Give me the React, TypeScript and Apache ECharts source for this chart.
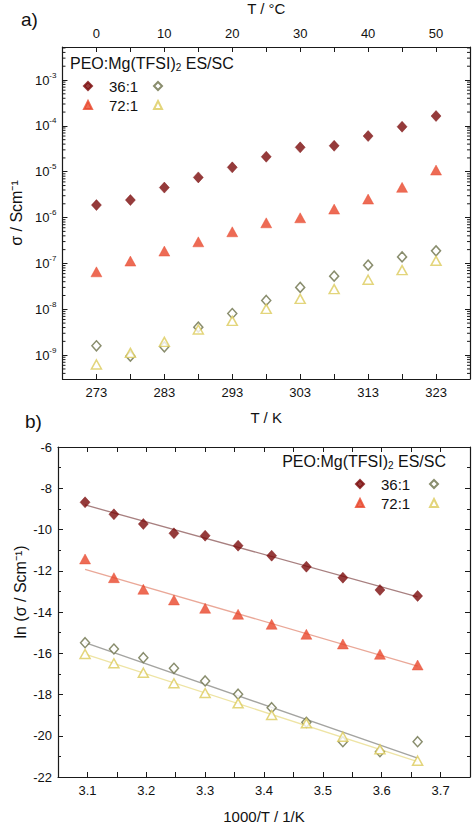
import React, { useEffect, useRef } from "react";
import * as echarts from "echarts";

// ---------- data ----------
const tempK = [273, 278, 283, 288, 293, 298, 303, 308, 313, 318, 323];
const invT = [3.661, 3.597, 3.534, 3.472, 3.413, 3.356, 3.3, 3.247, 3.195, 3.145, 3.096];

// conductivity in S/cm (panel a)
const sigma36ES = [1.875e-6, 2.41e-6, 4.51e-6, 7.53e-6, 1.245e-5, 2.12e-5, 3.4e-5, 3.68e-5, 6.0e-5, 9.57e-5, 1.64e-4];
const sigma72ES = [6.56e-8, 1.125e-7, 1.86e-7, 2.96e-7, 4.9e-7, 7.69e-7, 9.89e-7, 1.53e-6, 2.53e-6, 4.56e-6, 1.086e-5];
const sigma36SC = [1.6e-9, 9.5e-10, 1.52e-9, 4.08e-9, 8.1e-9, 1.56e-8, 3.0e-8, 5.28e-8, 9.18e-8, 1.39e-7, 1.88e-7];
const sigma72SC = [6.27e-10, 1.12e-9, 1.95e-9, 3.63e-9, 5.6e-9, 1.02e-8, 1.69e-8, 2.75e-8, 4.42e-8, 7.14e-8, 1.14e-7];

// ln(sigma) (panel b)
const ln36ES = [-13.224, -12.933, -12.337, -11.804, -11.27, -10.785, -10.301, -10.184, -9.733, -9.263, -8.681];
const ln72ES = [-16.57, -16.051, -15.552, -15.081, -14.596, -14.112, -13.821, -13.418, -12.899, -12.337, -11.43];
const ln36SC = [-20.288, -20.773, -20.288, -19.348, -18.64, -17.985, -17.345, -16.73, -16.216, -15.794, -15.488];
const ln72SC = [-21.21, -20.657, -20.046, -19.397, -18.994, -18.427, -17.927, -17.457, -16.943, -16.487, -16.036];

// Arrhenius fit lines (values at 1000/T = 3.661 and 3.096)
const fitX = [3.661, 3.096];
const fit36ES = [-13.27, -8.81];
const fit72ES = [-16.62, -11.93];
const fit36SC = [-21.08, -15.49];
const fit72SC = [-21.26, -16.04];

// axis ranges
const kRange = [268, 328];
const cRange = [-5, 55];
const logRange = [-9.52, -2.28];
const invRange = [3.05, 3.75];
const lnRange = [-22, -6];

const FONT = "'Liberation Sans', Arial, sans-serif";
const AX = "#1a1a1a";

const C36ES = "#7a0a0a";
const C72ES = "#e8462a";
const C36SC = "#6b7148";
const C72SC = "#dccb5a";

export default function App() {
  const ref = useRef<HTMLDivElement>(null);

  useEffect(() => {
    if (!ref.current) return;
    const chart = echarts.init(ref.current, undefined, { renderer: "svg" });

    const minorLog: number[][] = [];
    for (let n = -10; n <= -2; n++) {
      for (let k = 2; k <= 9; k++) {
        const v = n + Math.log10(k);
        if (v > logRange[0] && v < logRange[1]) minorLog.push([kRange[0], v]);
      }
    }

    const axisCommon = {
      axisLine: { show: true, onZero: false, lineStyle: { color: AX, width: 1.2 } },
      axisTick: { show: true, inside: true, length: 5, lineStyle: { color: AX, width: 1 } },
      splitLine: { show: false },
      axisLabel: { color: "#111", fontSize: 13, fontFamily: FONT },
      nameTextStyle: { color: "#111", fontSize: 15, fontFamily: FONT },
    };

    const isInt = (v: number) => Math.abs(v - Math.round(v)) < 1e-6;

    const sc = (name: string, x: number, y: number[], sym: string, color: string, hollow: boolean, xi: number, yi: number, size: number | number[]) => ({
      name,
      type: "scatter",
      xAxisIndex: xi,
      yAxisIndex: yi,
      symbol: sym,
      symbolSize: size,
      z: 5,
      itemStyle: hollow
        ? { color: "#fff", borderColor: color, borderWidth: 1.5 }
        : { color, borderColor: color, borderWidth: 0.5 },
      data: y.map((v, i) => [x === 0 ? tempK[i] : invT[i], v]),
    });

    const fitLine = (name: string, y: number[], color: string) => ({
      name,
      type: "line",
      xAxisIndex: 2,
      yAxisIndex: 2,
      showSymbol: false,
      symbol: "none",
      z: 2,
      lineStyle: { color, width: 1.3 },
      data: fitX.map((x, i) => [x, y[i]]),
    });

    const log = (arr: number[]) => arr.map((v) => Math.log10(v));

    const legendBase = {
      orient: "vertical",
      padding: 0,
      itemWidth: 8,
      itemHeight: 8,
      itemGap: 3,
      textStyle: { fontSize: 15, lineHeight: 16, fontFamily: FONT, color: "#111", padding: [0, 0, 0, 12] },
      selectedMode: false,
    };

    const titleRich = {
      a: { fontSize: 16, fontFamily: FONT, fill: "#111", lineHeight: 19 },
      s: { fontSize: 10, fontFamily: FONT, fill: "#111", verticalAlign: "bottom", lineHeight: 12 },
    };

    chart.setOption({
      animation: false,
      backgroundColor: "#fff",
      textStyle: { fontFamily: FONT },
      grid: [
        { left: 58, top: 47, width: 412, height: 332 },
        { left: 58, top: 447, width: 412, height: 330 },
      ],
      xAxis: [
        {
          ...axisCommon,
          gridIndex: 0,
          type: "value",
          position: "bottom",
          min: kRange[0],
          max: kRange[1],
          interval: 5,
          name: "T / K",
          nameLocation: "middle",
          nameGap: 31,
          axisLabel: {
            ...axisCommon.axisLabel,
            margin: 7,
            formatter: (v: number) => ((Math.round(v) - 273) % 10 === 0 ? String(Math.round(v)) : ""),
          },
        },
        {
          ...axisCommon,
          gridIndex: 0,
          type: "value",
          position: "top",
          min: cRange[0],
          max: cRange[1],
          interval: 5,
          name: "T / °C",
          nameLocation: "middle",
          nameGap: 31,
          axisLabel: {
            ...axisCommon.axisLabel,
            margin: 7,
            formatter: (v: number) => (Math.round(v) % 10 === 0 ? String(Math.round(v)) : ""),
          },
        },
        {
          ...axisCommon,
          gridIndex: 1,
          type: "value",
          position: "bottom",
          min: invRange[0],
          max: invRange[1],
          interval: 0.05,
          name: "1000/T / 1/K",
          nameLocation: "middle",
          nameGap: 32,
          axisLabel: {
            ...axisCommon.axisLabel,
            margin: 7,
            formatter: (v: number) => (Math.round(v * 100) % 10 === 0 ? v.toFixed(1) : ""),
          },
        },
        {
          ...axisCommon,
          gridIndex: 1,
          type: "value",
          position: "top",
          min: invRange[0],
          max: invRange[1],
          interval: 0.05,
          axisLabel: { show: false },
        },
      ],
      yAxis: [
        {
          ...axisCommon,
          gridIndex: 0,
          type: "value",
          position: "left",
          min: logRange[0],
          max: logRange[1],
          splitNumber: 7,
          name: "σ / Scm⁻¹",
          nameLocation: "middle",
          nameGap: 30,
          nameTextStyle: { ...axisCommon.nameTextStyle, fontSize: 16 },
          axisLabel: {
            ...axisCommon.axisLabel,
            margin: 6,
            formatter: (v: number) => (isInt(v) ? `{b|10}{s|${Math.round(v)}}` : ""),
            rich: {
              b: { fontSize: 13, fontFamily: FONT, color: "#111", lineHeight: 18 },
              s: { fontSize: 8, fontFamily: FONT, color: "#111", verticalAlign: "top", lineHeight: 9 },
            },
          },
        },
        {
          ...axisCommon,
          gridIndex: 0,
          type: "value",
          position: "right",
          min: logRange[0],
          max: logRange[1],
          splitNumber: 7,
          axisLabel: { show: false },
        },
        {
          ...axisCommon,
          gridIndex: 1,
          type: "value",
          position: "left",
          min: lnRange[0],
          max: lnRange[1],
          interval: 2,
          minorTick: { show: true, splitNumber: 2, length: 3, lineStyle: { color: AX } },
          axisLabel: { ...axisCommon.axisLabel, margin: 6 },
        },
        {
          ...axisCommon,
          gridIndex: 1,
          type: "value",
          position: "right",
          min: lnRange[0],
          max: lnRange[1],
          interval: 2,
          minorTick: { show: true, splitNumber: 2, length: 3, lineStyle: { color: AX } },
          axisLabel: { show: false },
        },
      ],
      legend: [
        {
          ...legendBase,
          left: 83,
          top: 78,
          data: [
            { name: "36:1 ES", icon: "diamond" },
            { name: "72:1 ES", icon: "triangle" },
          ],
          formatter: (n: string) => n.split(" ")[0],
        },
        {
          ...legendBase,
          left: 153,
          top: 78,
          data: [
            { name: "36:1 SC", icon: "diamond" },
            { name: "72:1 SC", icon: "triangle" },
          ],
          formatter: () => " ",
        },
        {
          ...legendBase,
          left: 355,
          top: 476,
          data: [
            { name: "36:1 ES", icon: "diamond" },
            { name: "72:1 ES", icon: "triangle" },
          ],
          formatter: (n: string) => n.split(" ")[0],
        },
        {
          ...legendBase,
          left: 429,
          top: 476,
          data: [
            { name: "36:1 SC", icon: "diamond" },
            { name: "72:1 SC", icon: "triangle" },
          ],
          formatter: () => " ",
        },
      ],
      graphic: [
        { type: "text", left: 21, top: 10, style: { text: "a)", fontSize: 19, fontFamily: FONT, fill: "#111" } },
        { type: "text", left: 25, top: 412, style: { text: "b)", fontSize: 19, fontFamily: FONT, fill: "#111" } },
        {
          type: "text",
          left: 70,
          top: 55,
          style: { text: "{a|PEO:Mg(TFSI)}{s|2}{a| ES/SC}", rich: titleRich },
        },
        {
          type: "text",
          right: 28,
          top: 453,
          style: { text: "{a|PEO:Mg(TFSI)}{s|2}{a| ES/SC}", rich: titleRich },
        },
        {
          type: "text",
          x: 20,
          y: 592,
          rotation: Math.PI / 2,
          style: {
            text: "ln (σ / Scm⁻¹)",
            fontSize: 16,
            fontFamily: FONT,
            fill: "#111",
            align: "center",
            verticalAlign: "middle",
          },
        },
      ],
      series: [
        {
          type: "custom",
          xAxisIndex: 0,
          yAxisIndex: 0,
          silent: true,
          clip: false,
          z: 1,
          data: minorLog,
          renderItem: (_p: any, api: any) => {
            const l = api.coord([kRange[0], api.value(1)]);
            const r = api.coord([kRange[1], api.value(1)]);
            return {
              type: "group",
              children: [
                { type: "line", shape: { x1: l[0], y1: l[1], x2: l[0] + 3, y2: l[1] }, style: { stroke: AX, lineWidth: 1 } },
                { type: "line", shape: { x1: r[0] - 3, y1: r[1], x2: r[0], y2: r[1] }, style: { stroke: AX, lineWidth: 1 } },
              ],
            };
          },
        },
        sc("36:1 ES", 0, log(sigma36ES), "diamond", C36ES, false, 0, 0, [10, 11]),
        sc("72:1 ES", 0, log(sigma72ES), "triangle", C72ES, false, 0, 0, [11, 10]),
        sc("36:1 SC", 0, log(sigma36SC), "diamond", C36SC, true, 0, 0, [9, 10]),
        sc("72:1 SC", 0, log(sigma72SC), "triangle", C72SC, true, 0, 0, [10, 9]),
        fitLine("fit 36:1 ES", fit36ES, "#a88080"),
        fitLine("fit 72:1 ES", fit72ES, "#eaa898"),
        fitLine("fit 36:1 SC", fit36SC, "#a4a4a0"),
        fitLine("fit 72:1 SC", fit72SC, "#eee4a4"),
        sc("36:1 ES", 1, ln36ES, "diamond", C36ES, false, 2, 2, [10, 11]),
        sc("72:1 ES", 1, ln72ES, "triangle", C72ES, false, 2, 2, [11, 10]),
        sc("36:1 SC", 1, ln36SC, "diamond", C36SC, true, 2, 2, [9, 10]),
        sc("72:1 SC", 1, ln72SC, "triangle", C72SC, true, 2, 2, [10, 9]),
      ],
    });

    return () => chart.dispose();
  }, []);

  return (
    <div
      ref={ref}
      style={{ position: "absolute", left: 0, top: 0, width: 474, height: 827, background: "#fff" }}
    />
  );
}
